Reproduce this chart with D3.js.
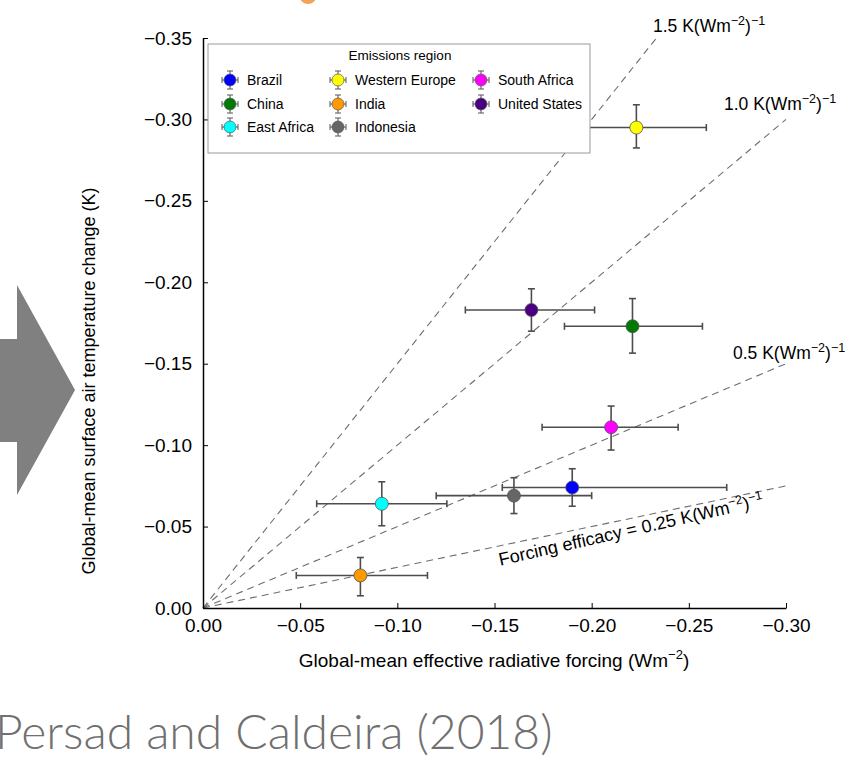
<!DOCTYPE html>
<html>
<head>
<meta charset="utf-8">
<script src="https://cdn.jsdelivr.net/npm/d3@7"></script>
<style>
  body { margin: 0; background: #fff; }
  svg { display: block; font-family: "Liberation Sans", Arial, sans-serif; }
</style>
</head>
<body>
<svg id="chart" width="853" height="762"></svg>
<script>
const regions = ['Brazil', 'China', 'East Africa', 'Western Europe', 'India', 'Indonesia', 'South Africa', 'United States'];
const colors = ['#0000ff', '#007a00', '#00ffff', '#ffff00', '#ff9900', '#666666', '#ff00ff', '#4b0082'];
const forcing = [-0.190, -0.221, -0.092, -0.223, -0.081, -0.160, -0.210, -0.169];
const forcingLo = [-0.154, -0.186, -0.0585, -0.187, -0.048, -0.120, -0.1745, -0.135];
const forcingHi = [-0.2695, -0.257, -0.1255, -0.259, -0.1155, -0.200, -0.2445, -0.2015];
const tempChange = [-0.074, -0.173, -0.064, -0.295, -0.020, -0.069, -0.111, -0.183];
const tempLo = [-0.0625, -0.1565, -0.0505, -0.2825, -0.0075, -0.058, -0.097, -0.170];
const tempHi = [-0.0855, -0.190, -0.0775, -0.309, -0.031, -0.080, -0.124, -0.196];
const xTicks = [0, -0.05, -0.10, -0.15, -0.20, -0.25, -0.30];
const yTicks = [0, -0.05, -0.10, -0.15, -0.20, -0.25, -0.30, -0.35];
const efficacies = [1.5, 1.0, 0.5, 0.25];

const svg = d3.select('#chart');

const x = d3.scaleLinear().domain([0, -0.30]).range([203, 786]);
const y = d3.scaleLinear().domain([0, -0.35]).range([608, 38]);
const fmt = d3.format('.2f');

// grey slide arrow on the left
svg.append('path')
    .attr('d', 'M0,339 L17,339 L17,285 L75,390 L17,495 L17,442 L0,442 Z')
    .attr('fill', '#808080');

// orange fragment cut off at the top
svg.append('ellipse')
    .attr('cx', 308).attr('cy', -3).attr('rx', 8).attr('ry', 7)
    .attr('fill', '#f4a259');

// dashed efficacy lines
efficacies.forEach(k => {
    const xEnd = Math.max(-0.30, -0.35 / k);
    svg.append('line')
        .attr('x1', x(0)).attr('y1', y(0))
        .attr('x2', x(xEnd)).attr('y2', y(k * xEnd))
        .attr('stroke', '#6e6e6e')
        .attr('stroke-width', 1.1)
        .attr('stroke-dasharray', '7,5');
});

// axes
const xAxis = svg.append('g')
    .attr('transform', `translate(0,${y(0)})`)
    .call(d3.axisBottom(x).tickValues(xTicks).tickFormat(fmt).tickSizeInner(-5).tickSizeOuter(0).tickPadding(11));
const yAxis = svg.append('g')
    .attr('transform', `translate(${x(0)},0)`)
    .call(d3.axisLeft(y).tickValues(yTicks).tickFormat(fmt).tickSizeInner(-5).tickSizeOuter(0).tickPadding(11));
[xAxis, yAxis].forEach(g => {
    g.selectAll('text').attr('font-size', 19).attr('fill', '#000').attr('font-family', '"Liberation Sans", Arial, sans-serif');
    g.selectAll('line').attr('stroke', '#000');
    g.select('.domain').attr('stroke', '#000').attr('stroke-width', 1.5);
});

// axis titles
const xt = svg.append('text')
    .attr('x', 494).attr('y', 667)
    .attr('text-anchor', 'middle')
    .attr('font-size', 19);
xt.append('tspan').text('Global-mean effective radiative forcing (Wm');
xt.append('tspan').attr('font-size', 13).attr('dy', -8).text('\u22122');
xt.append('tspan').attr('dy', 8).text(')');

svg.append('text')
    .attr('transform', 'translate(95,381) rotate(-90)')
    .attr('text-anchor', 'middle')
    .attr('font-size', 18)
    .text('Global-mean surface air temperature change (K)');

// efficacy labels
function effLabel(sel, value) {
    sel.append('tspan').text(value + ' K(Wm');
    sel.append('tspan').attr('font-size', 12.5).attr('dy', -7).text('\u22122');
    sel.append('tspan').attr('dy', 7).text(')');
    sel.append('tspan').attr('font-size', 12.5).attr('dy', -7).text('\u22121');
}
const labelPos = [[653, 32], [724, 110], [733, 359]];
efficacies.slice(0, 3).forEach((k, i) => {
    svg.append('text')
        .attr('x', labelPos[i][0]).attr('y', labelPos[i][1])
        .attr('font-size', 17.5)
        .call(effLabel, k.toFixed(1));
});
const angle = Math.atan2(y(0) - y(-0.075), x(-0.30) - x(0)) * 180 / Math.PI;
const fe = svg.append('text')
    .attr('transform', `translate(${x(-0.153)},${y(0.25 * -0.153) + 20}) rotate(${-angle - 1})`)
    .attr('font-size', 18);
fe.append('tspan').text('Forcing efficacy = 0.25 K(Wm');
fe.append('tspan').attr('font-size', 12.5).attr('dy', -7).text('\u22122');
fe.append('tspan').attr('dy', 7).text(')');
fe.append('tspan').attr('font-size', 12.5).attr('dy', -7).text('\u22121');

// error bars + points
const cap = 3.5;
const pts = svg.append('g');
regions.forEach((r, i) => {
    const g = pts.append('g').attr('stroke', '#4d4d4d').attr('stroke-width', 1.6);
    const cx = x(forcing[i]), cy = y(tempChange[i]);
    const xl = x(forcingLo[i]), xr = x(forcingHi[i]);
    const yb = y(tempLo[i]), yt = y(tempHi[i]);
    g.append('line').attr('x1', xl).attr('x2', xr).attr('y1', cy).attr('y2', cy);
    g.append('line').attr('x1', xl).attr('x2', xl).attr('y1', cy - cap).attr('y2', cy + cap);
    g.append('line').attr('x1', xr).attr('x2', xr).attr('y1', cy - cap).attr('y2', cy + cap);
    g.append('line').attr('x1', cx).attr('x2', cx).attr('y1', yt).attr('y2', yb);
    g.append('line').attr('x1', cx - cap).attr('x2', cx + cap).attr('y1', yt).attr('y2', yt);
    g.append('line').attr('x1', cx - cap).attr('x2', cx + cap).attr('y1', yb).attr('y2', yb);
    g.append('circle').attr('cx', cx).attr('cy', cy).attr('r', 6.5)
        .attr('fill', colors[i]).attr('stroke', '#555').attr('stroke-width', 0.8);
});

// legend
const lg = svg.append('g');
lg.append('rect')
    .attr('x', 208).attr('y', 44).attr('width', 382).attr('height', 109)
    .attr('fill', '#fff').attr('stroke', '#999').attr('stroke-width', 1);
lg.append('text')
    .attr('x', 400).attr('y', 60)
    .attr('text-anchor', 'middle')
    .attr('font-size', 13.5)
    .text('Emissions region');
const colX = [230, 338, 481];
const rowY = [80, 104, 127];
regions.forEach((r, i) => {
    const mx = colX[Math.floor(i / 3)], my = rowY[i % 3];
    const g = lg.append('g').attr('transform', `translate(${mx},${my})`);
    g.append('path')
        .attr('d', 'M-8,0H8M-8,-3V3M8,-3V3M0,-9V9M-3,-9H3M-3,9H3')
        .attr('stroke', '#555').attr('stroke-width', 1).attr('fill', 'none');
    g.append('circle').attr('r', 6).attr('fill', colors[i]).attr('stroke', '#555').attr('stroke-width', 0.7);
    g.append('text')
        .attr('x', 17).attr('y', 5)
        .attr('font-size', 14)
        .text(r);
});

// slide citation
svg.append('text')
    .attr('x', -5).attr('y', 749)
    .attr('font-family', 'Lato, sans-serif')
    .attr('font-weight', 300)
    .attr('font-size', 48)
    .attr('fill', '#707070')
    .text('Persad and Caldeira (2018)');
</script>
</body>
</html>
